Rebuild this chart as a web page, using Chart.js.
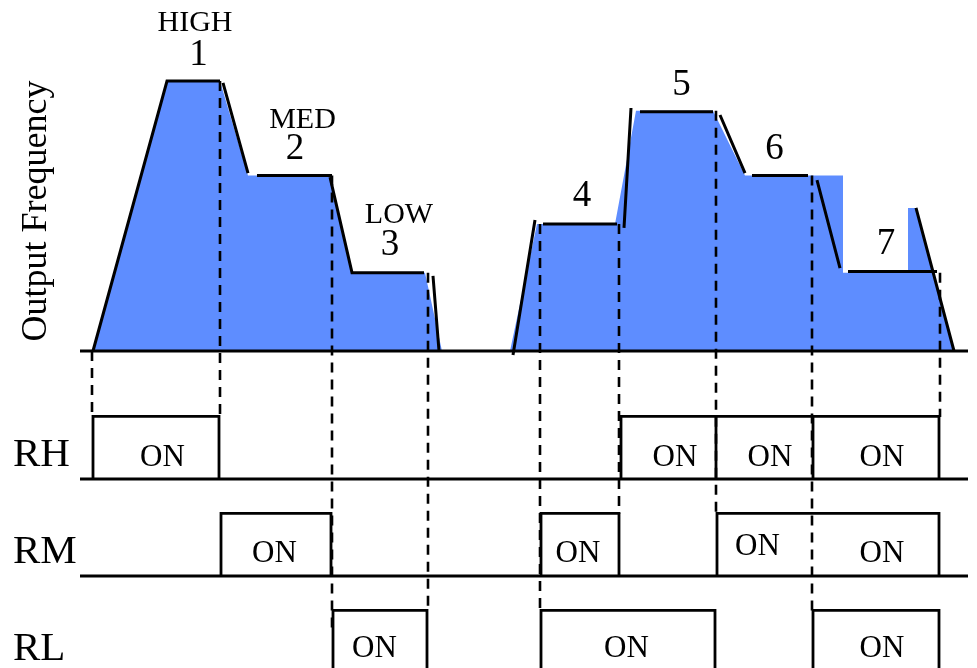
<!DOCTYPE html>
<html>
<head>
<meta charset="utf-8">
<title>Output Frequency - RH / RM / RL</title>
<script src="https://cdn.jsdelivr.net/npm/chart.js@4.4.1/dist/chart.umd.min.js"></script>
<style>
    html, body { margin: 0; padding: 0; background: #fff; }
    #wrap { width: 977px; height: 668px; position: relative; }
</style>
</head>
<body>
<div id="wrap"><canvas id="speedChart"></canvas></div>
<script>
// time is in arbitrary units, frequency in % of the HIGH speed
// filled frequency profile, first run (speeds 1-3)
const runATime = [0, 7.4, 12.7, 15.5, 23.7, 25.9, 33.2, 34.9];
const runAFreq = [0, 100, 100, 65, 65, 29, 29, 0];
// second run (speeds 4-7)
const runBTime = [41.7, 44.4, 52.2, 54.3, 62.0, 65.2, 75.0, 75.0, 81.5, 81.5, 82.3, 86.1];
const runBFreq = [0, 47, 47, 89, 89, 65, 65, 29, 29, 53, 53, 0];

// black outline strokes (null = pen up)
const edgeTime = [0, 7.4, 12.7, null, 13.0, 15.5, null, 16.4, 23.9, null, 23.7, 25.9, 33.1, null, 34.0, 34.6, null,
    42.0, 44.2, null, 45.0, 52.4, null, 53.1, 53.8, null, 54.7, 62.0, null, 62.7, 65.2, null,
    65.9, 71.5, null, 72.4, 74.7, null, 75.5, 84.4, null, 82.3, 86.1];
const edgeFreq = [0, 100, 100, null, 99.3, 65.9, null, 65, 65, null, 64.4, 29, 29, null, 27.8, 0, null,
    -1.5, 48.5, null, 47, 47, null, 45.6, 90, null, 88.6, 88.6, null, 87.4, 65.9, null,
    65, 65, null, 63.3, 30.7, null, 29.4, 29.4, null, 53, 0];
const axisTime = [-1.3, 87.5];

// speed step labels
const speedNames = ['1', '2', '3', '4', '5', '6', '7'];
const speedLabelTime = [10.55, 20.2, 29.7, 48.9, 58.85, 68.15, 79.3];
const speedLabelFreq = [109.6, 74.6, 39.3, 57.4, 98.5, 74.8, 39.6];
const levelWords = ['HIGH', 'MED', 'LOW'];
const levelWordTime = [10.2, 20.95, 30.6];
const levelWordFreq = [121.5, 85.6, 50.4];

// relay inputs, row 2 = RH, 1 = RM, 0 = RL
const relayNames = ['RH', 'RM', 'RL'];
const relayRow = [2, 1, 0];
const rhStart = [0.0, 52.8, 62.3, 72.0];
const rhEnd = [12.6, 62.3, 72.0, 84.6];
const rmStart = [12.8, 44.8, 62.4];
const rmEnd = [23.8, 52.6, 84.6];
const rlStart = [24.0, 44.8, 72.0];
const rlEnd = [33.4, 62.2, 84.6];

// "ON" texts
const onLabelTime = [6.95, 58.2, 67.7, 78.9, 18.15, 48.5, 66.45, 78.9, 28.15, 53.35, 78.9];
const onLabelLevel = [2.13, 2.13, 2.13, 2.13, 1.14, 1.14, 1.22, 1.14, 0.16, 0.16, 0.16];

// dashed time markers: from the frequency curve down to the relay row
const markerTime = [-0.1, 12.7, 23.9, 33.5, 44.7, 52.6, 62.3, 71.9, 84.7];
const markerFreq = [0, 100, 65, 29, 47, 47, 89, 65, 29];
const markerRelay = [2.64, 2.64, 0.45, 0.64, 0.64, 1.64, 1.64, 0.64, 2.64];

const ON_H = 0.645;
const BLUE = 'rgb(94, 141, 255)';
const SERIF = '"Liberation Serif", "DejaVu Serif", serif';

function pts(ts, vs) {
    return ts.map((t, i) => ({ x: t === null ? ts[i - 1] : t, y: vs[i] }));
}

function boxes(starts, ends, base) {
    const out = [];
    starts.forEach((s, i) => {
        out.push({ x: s, y: base }, { x: s, y: base + ON_H }, { x: ends[i], y: base + ON_H }, { x: ends[i], y: base }, { x: ends[i], y: null });
    });
    return out;
}

function rowLines() {
    const out = [];
    [2, 1].forEach(r => {
        out.push({ x: axisTime[0], y: r }, { x: axisTime[1], y: r }, { x: axisTime[1], y: null });
    });
    return out;
}

const diagramText = {
    id: 'diagramText',
    afterDatasetsDraw(chart) {
        const { ctx, scales: { x, y, yR } } = chart;
        ctx.save();

        // dashed markers
        ctx.setLineDash([10, 7]);
        ctx.lineWidth = 2.6;
        ctx.strokeStyle = '#000';
        markerTime.forEach((t, i) => {
            const px = x.getPixelForValue(t);
            ctx.beginPath();
            ctx.moveTo(px, y.getPixelForValue(markerFreq[i]));
            ctx.lineTo(px, yR.getPixelForValue(markerRelay[i]));
            ctx.stroke();
        });
        ctx.setLineDash([]);

        ctx.fillStyle = '#000';
        ctx.textAlign = 'center';
        ctx.textBaseline = 'middle';
        ctx.font = '37px ' + SERIF;
        speedNames.forEach((s, i) => {
            ctx.fillText(s, x.getPixelForValue(speedLabelTime[i]), y.getPixelForValue(speedLabelFreq[i]));
        });
        ctx.font = '30px ' + SERIF;
        levelWords.forEach((w, i) => {
            ctx.fillText(w, x.getPixelForValue(levelWordTime[i]), y.getPixelForValue(levelWordFreq[i]));
        });

        ctx.textBaseline = 'alphabetic';
        ctx.font = '31px ' + SERIF;
        onLabelTime.forEach((t, i) => {
            ctx.fillText('ON', x.getPixelForValue(t), yR.getPixelForValue(onLabelLevel[i]));
        });

        ctx.textAlign = 'left';
        ctx.font = '41px ' + SERIF;
        relayNames.forEach((n, i) => {
            ctx.fillText(n, 13, yR.getPixelForValue(relayRow[i]) - 13);
        });

        // axis title
        ctx.font = '36px ' + SERIF;
        ctx.textAlign = 'center';
        ctx.translate(46, 211);
        ctx.rotate(-Math.PI / 2);
        ctx.fillText('Output Frequency', 0, 0);
        ctx.restore();
    }
};

const lineStyle = { showLine: true, pointRadius: 0, pointHoverRadius: 0, spanGaps: false, fill: false, borderColor: '#000', order: 1 };

new Chart(document.getElementById('speedChart'), {
    type: 'line',
    data: {
        datasets: [
            { ...lineStyle, label: 'run A', data: pts(runATime, runAFreq), fill: 'origin', backgroundColor: BLUE, borderColor: 'rgba(0,0,0,0)', borderWidth: 1, order: 3 },
            { ...lineStyle, label: 'run B', data: pts(runBTime, runBFreq), fill: 'origin', backgroundColor: BLUE, borderColor: 'rgba(0,0,0,0)', borderWidth: 1, order: 3 },
            { ...lineStyle, label: 'edges', data: pts(edgeTime, edgeFreq), borderWidth: 3 },
            { ...lineStyle, label: 'zero', data: pts(axisTime, [0, 0]), borderWidth: 3 },
            { ...lineStyle, label: 'rows', data: rowLines(), yAxisID: 'yR', borderWidth: 3 },
            { ...lineStyle, label: 'RH', data: boxes(rhStart, rhEnd, 2), yAxisID: 'yR', borderWidth: 2.8, borderJoinStyle: 'miter' },
            { ...lineStyle, label: 'RM', data: boxes(rmStart, rmEnd, 1), yAxisID: 'yR', borderWidth: 2.8, borderJoinStyle: 'miter' },
            { ...lineStyle, label: 'RL', data: boxes(rlStart, rlEnd, 0), yAxisID: 'yR', borderWidth: 2.8, borderJoinStyle: 'miter' }
        ]
    },
    options: {
        responsive: true,
        maintainAspectRatio: false,
        animation: false,
        events: [],
        layout: { padding: 0 },
        plugins: {
            legend: { display: false },
            tooltip: { enabled: false }
        },
        scales: {
            x: { type: 'linear', min: -9.3, max: 88.4, display: false },
            y: { type: 'linear', min: -117.41, max: 130.0, display: false },
            yR: { type: 'linear', min: 0.0515, max: 6.938, display: false }
        }
    },
    plugins: [diagramText]
});
</script>
</body>
</html>
